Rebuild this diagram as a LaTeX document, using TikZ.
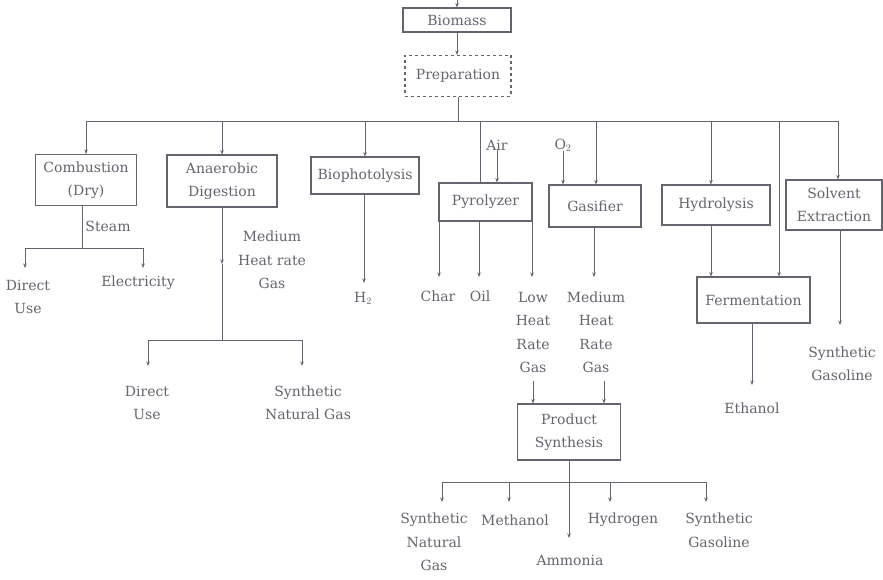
\documentclass[tikz,border=0pt]{standalone}
\usepackage{fontspec}
\setmainfont{DejaVu Serif}
\usetikzlibrary{arrows.meta}
\definecolor{ink}{RGB}{100,100,110}
\tikzset{
  box/.style={draw=ink, line width=1.1pt, text=ink, align=center, inner sep=0pt,
     font=\fontsize{14}{23.5}\selectfont},
  lbl/.style={text=ink, align=center, inner sep=0pt, font=\fontsize{14}{23.5}\selectfont},
  ln/.style={draw=ink, line width=0.95pt},
  arr/.style={ln, -{Stealth[length=4.5pt,width=3.5pt]}}
}
\begin{document}
\begin{tikzpicture}[x=1pt,y=-1pt]
\useasboundingbox (0,0) rectangle (883,580);
% boxes
\node[box, minimum width=108pt, minimum height=24pt] (bio) at (457,20) {Biomass};
\node[box, dashed, minimum width=106pt, minimum height=41pt] (prep) at (458,76) {Preparation};
\node[box, minimum width=101pt, minimum height=51pt] (comb) at (86,180) {Combustion\\(Dry)};
\node[box, minimum width=110pt, minimum height=52pt] (anae) at (222,181) {Anaerobic\\Digestion};
\node[box, minimum width=108pt, minimum height=37pt] (biop) at (365,175.5) {Biophotolysis};
\node[box, minimum width=93pt, minimum height=38pt] (pyro) at (485.5,202) {Pyrolyzer};
\node[box, minimum width=92pt, minimum height=42pt] (gasi) at (595,206) {Gasifier};
\node[box, minimum width=108pt, minimum height=40pt] (hydr) at (716,205) {Hydrolysis};
\node[box, minimum width=96pt, minimum height=50pt] (solv) at (834,205) {Solvent\\Extraction};
\node[box, minimum width=113pt, minimum height=46pt] (ferm) at (753.5,300) {Fermentation};
\node[box, minimum width=103pt, minimum height=56pt] (prod) at (569,432) {Product\\Synthesis};

% labels
\node[lbl] (air) at (497,145) {Air};
\node[lbl] (oxy) at (563,145) {O$_2$};
\node[lbl] (steam) at (108,226) {Steam};
\node[lbl] (du1) at (28,297) {Direct\\Use};
\node[lbl] (elec) at (138,283) {Electricity};
\node[lbl] (mhg) at (272,260) {Medium\\Heat rate\\Gas};
\node[lbl] (du2) at (147,403) {Direct\\Use};
\node[lbl] (sng1) at (308,403) {Synthetic\\Natural Gas};
\node[lbl] (h2) at (363,298) {H$_2$};
\node[lbl] (char) at (438,296) {Char};
\node[lbl] (oil) at (480,296) {Oil};
\node[lbl] (lhrg) at (533,332.5) {Low\\Heat\\Rate\\Gas};
\node[lbl] (mhrg) at (596,332.5) {Medium\\Heat\\Rate\\Gas};
\node[lbl] (eth) at (752,408) {Ethanol};
\node[lbl] (sgas1) at (842,364) {Synthetic\\Gasoline};
\node[lbl] (sng2) at (434,542) {Synthetic\\Natural\\Gas};
\node[lbl] (meth) at (515,520) {Methanol};
\node[lbl] (amm) at (570,560) {Ammonia};
\node[lbl] (hyd) at (623,520) {Hydrogen};
\node[lbl] (sgas2) at (719,530.5) {Synthetic\\Gasoline};

% coordinates
\coordinate (top) at (457,0);
\coordinate (busL) at (86,121);
\coordinate (busR) at (838,121);
\coordinate (cj) at (82,248);
\coordinate (cjL) at (25,248);
\coordinate (cjR) at (143,248);
\coordinate (e1) at (25,268);
\coordinate (e2) at (143,268);
\coordinate (amid) at (222,264);
\coordinate (aj) at (222,340);
\coordinate (ajL) at (148,340);
\coordinate (ajR) at (302,340);
\coordinate (e3) at (148,366);
\coordinate (e4) at (302,366);
\coordinate (e5) at (364,283);
\coordinate (e6) at (439,277);
\coordinate (e7) at (479,277);
\coordinate (e8) at (532,277);
\coordinate (e9) at (594,277);
\coordinate (s1) at (533,381);
\coordinate (s2) at (604,381);
\coordinate (e10) at (752,385);
\coordinate (e11) at (840,325);
\coordinate (pjL) at (442,482);
\coordinate (pjR) at (706,482);
\coordinate (e12) at (442,502);
\coordinate (e13) at (509,502);
\coordinate (e14) at (610,502);
\coordinate (e15) at (706,502);
\coordinate (e16) at (569,538);
\coordinate (dpy) at (480,121);
\coordinate (dga) at (596,121);
\coordinate (dhy) at (711,121);
\coordinate (dfe) at (779,121);

% top chain
\draw[arr] (top) -- (bio.north);
\draw[arr] (bio.south) -- (bio.south |- prep.north);
\draw[ln] (prep.south) -- (prep.south |- busL);
\draw[ln] (busL) -- (busR);

% drops from bus
\draw[arr] (busL) -- (comb.north);
\draw[arr] (anae.north |- busL) -- (anae.north);
\draw[arr] (biop.north |- busL) -- (biop.north);
\draw[ln] (dpy) -- (dpy |- pyro.north);
\draw[arr] (air.south) -- (air.south |- pyro.north);
\draw[arr] (oxy.south) -- (oxy.south |- gasi.north);
\draw[arr] (dga) -- (dga |- gasi.north);
\draw[arr] (dhy) -- (dhy |- hydr.north);
\draw[arr] (dfe) -- (dfe |- ferm.north);
\draw[arr] (busR) -- (busR |- solv.north);

% combustion
\draw[ln] (cj |- comb.south) -- (cj);
\draw[ln] (cjL) -- (cjR);
\draw[arr] (cjL) -- (e1);
\draw[arr] (cjR) -- (e2);

% anaerobic
\draw[arr] (anae.south) -- (amid);
\draw[ln] (amid) -- (aj);
\draw[ln] (ajL) -- (ajR);
\draw[arr] (ajL) -- (e3);
\draw[arr] (ajR) -- (e4);

% biophotolysis
\draw[arr] (e5 |- biop.south) -- (e5);

% pyrolyzer
\draw[arr] (e6 |- pyro.south) -- (e6);
\draw[arr] (e7 |- pyro.south) -- (e7);
\draw[arr] (e8 |- pyro.south) -- (e8);
\draw[arr] (s1) -- (s1 |- prod.north);

% gasifier
\draw[arr] (e9 |- gasi.south) -- (e9);
\draw[arr] (s2) -- (s2 |- prod.north);

% hydrolysis / fermentation
\draw[arr] (dhy |- hydr.south) -- (dhy |- ferm.north);
\draw[arr] (e10 |- ferm.south) -- (e10);

% solvent
\draw[arr] (e11 |- solv.south) -- (e11);

% product synthesis
\draw[arr] (prod.south) -- (e16);
\draw[ln] (pjL) -- (pjR);
\draw[arr] (pjL) -- (e12);
\draw[arr] (e13 |- pjL) -- (e13);
\draw[arr] (e14 |- pjL) -- (e14);
\draw[arr] (pjR) -- (e15);
\end{tikzpicture}
\end{document}
